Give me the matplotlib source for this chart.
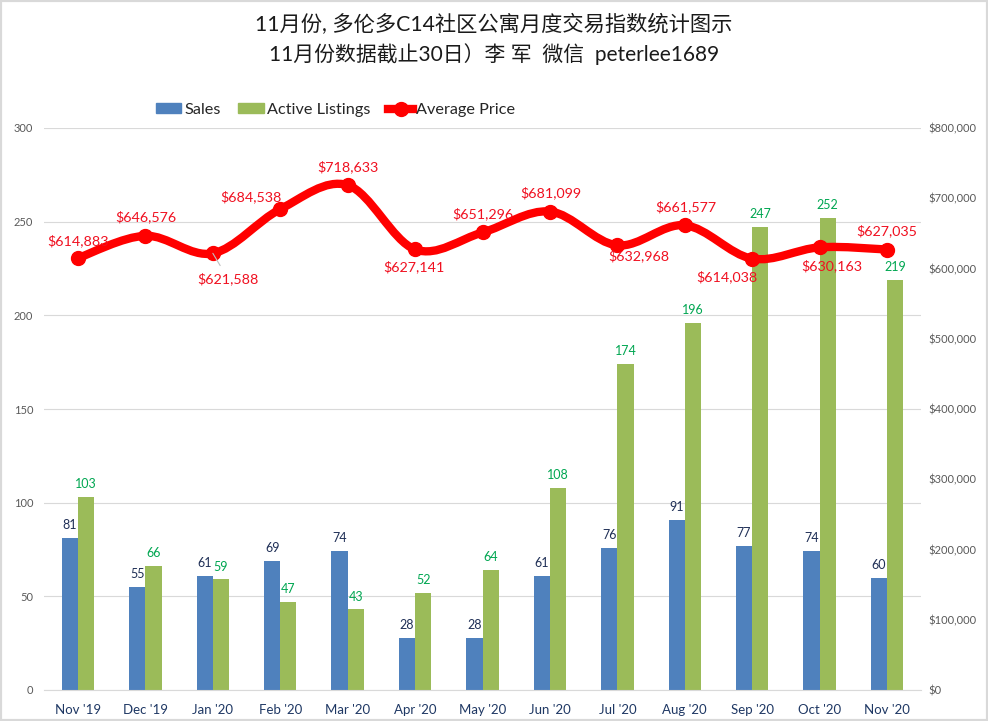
import numpy as np
import matplotlib
matplotlib.use("Agg")
import matplotlib.pyplot as plt
from matplotlib.patches import PathPatch, Rectangle
from matplotlib.path import Path
from matplotlib.lines import Line2D
from matplotlib.ticker import FuncFormatter

plt.rcParams['font.family'] = ['Lato', 'Noto Sans CJK SC', 'DejaVu Sans']

months = ["Nov '19", "Dec '19", "Jan '20", "Feb '20", "Mar '20", "Apr '20", "May '20",
          "Jun '20", "Jul '20", "Aug '20", "Sep '20", "Oct '20", "Nov '20"]
sales = [81, 55, 61, 69, 74, 28, 28, 61, 76, 91, 77, 74, 60]
listings = [103, 66, 59, 47, 43, 52, 64, 108, 174, 196, 247, 252, 219]
prices = [614883, 646576, 621588, 684538, 718633, 627141, 651296,
          681099, 632968, 661577, 614038, 630163, 627035]

# label offsets from each price point, in pixels
label_dx = [0, 0, 15, -29, 0, -1, 0, 1, 22, 1, -25, 12, 0]
label_dy = [17, 19, -25, 12, 18, -17, 19, 19, -10, 19, -18, -18, 19]

BLUE = '#4F81BD'
GREEN = '#9BBB59'
RED = '#FF0000'
W, H = 988, 721

fig = plt.figure(figsize=(W / 100, H / 100), dpi=100, facecolor='white')
ax = fig.add_axes([44.3 / W, 1 - 690 / H, 876.4 / W, 562 / H])
ax2 = ax.twinx()
ax.set_zorder(1)
ax2.set_zorder(2)
ax2.patch.set_visible(False)

x = np.arange(len(months))
bar_w = 0.24
b1 = ax.bar(x - bar_w / 2, sales, bar_w, color=BLUE, label='Sales', zorder=2)
b2 = ax.bar(x + bar_w / 2, listings, bar_w, color=GREEN, label='Active Listings', zorder=2)
ax.bar_label(b1, padding=5, fontsize=9, color='#1F2F56')
ax.bar_label(b2, padding=5, fontsize=9, color='#00A651')

ax.set_xlim(-0.5, len(months) - 0.5)
ax.set_ylim(0, 300)
ax.set_yticks(range(0, 301, 50))
ax.set_xticks(x)
ax.set_xticklabels(months, fontsize=9.5, color='#1F3864')
ax.grid(axis='y', color='#D9D9D9', linewidth=0.8)
ax.set_axisbelow(True)
ax.tick_params(axis='x', length=0, pad=10)
ax.tick_params(axis='y', length=0, pad=8, labelsize=8, labelcolor='#595959')
for s in ax.spines.values():
    s.set_visible(False)
ax.spines['bottom'].set_visible(True)
ax.spines['bottom'].set_color('#D9D9D9')

# smoothed line, same idea as the spreadsheet's curve option
ax2.set_ylim(0, 800000)
ax2.set_yticks(range(0, 800001, 100000))
ax2.yaxis.set_major_formatter(FuncFormatter(lambda v, _: f'${v:,.0f}'))
ax2.tick_params(axis='y', length=0, pad=5.5, labelsize=8, labelcolor='#595959')
for s in ax2.spines.values():
    s.set_visible(False)

px = x.astype(float)
py = np.array(prices, dtype=float)
verts = [(px[0], py[0])]
codes = [Path.MOVETO]
for i in range(len(px) - 1):
    p0 = max(i - 1, 0)
    p3 = min(i + 2, len(px) - 1)
    c1 = (px[i] + (px[i + 1] - px[p0]) / 6, py[i] + (py[i + 1] - py[p0]) / 6)
    c2 = (px[i + 1] - (px[p3] - px[i]) / 6, py[i + 1] - (py[p3] - py[i]) / 6)
    verts += [c1, c2, (px[i + 1], py[i + 1])]
    codes += [Path.CURVE4] * 3
ax2.add_patch(PathPatch(Path(verts, codes), facecolor='none', edgecolor=RED, linewidth=6, capstyle='round'))
ax2.plot(px, py, linestyle='none', marker='o', markersize=10, color=RED)

for i, p in enumerate(prices):
    arrow = None
    if i == 2:
        arrow = dict(arrowstyle='-', color='#BFBFBF', linewidth=0.8, shrinkA=3, shrinkB=0)
    ax2.annotate(f'${p:,}', (px[i], py[i]), xytext=(label_dx[i] * 0.72, label_dy[i] * 0.72),
                 textcoords='offset points', ha='center', va='center',
                 fontsize=10.3, color='#F01020', arrowprops=arrow, zorder=5)

handles = [
    Rectangle((0, 0), 1, 1, color=BLUE),
    Rectangle((0, 0), 1, 1, color=GREEN),
    Line2D([], [], color=RED, linewidth=6, marker='o', markersize=10),
]
fig.legend(handles, ['Sales', 'Active Listings', 'Average Price'],
           loc='center left', bbox_to_anchor=(141 / W, 1 - 110 / H), ncol=3, frameon=False,
           fontsize=11.7, handlelength=1.55, handleheight=0.55, handletextpad=0.2,
           columnspacing=1.1, labelcolor='#262626')

fig.text(0.5, 1 - 25 / H, '11月份, 多伦多C14社区公寓月度交易指数统计图示',
         ha='center', va='center', fontsize=15.3, color='#1A1A1A')
fig.text(0.5, 1 - 54 / H, '11月份数据截止30日）李 军  微信  peterlee1689',
         ha='center', va='center', fontsize=15, color='#1A1A1A')

# chart frame
fig.add_artist(Rectangle((0, 0), 1, 1, transform=fig.transFigure, fill=False,
                         edgecolor='#D9D9D9', linewidth=3))

fig.savefig('out.png', dpi=100, facecolor='white')
